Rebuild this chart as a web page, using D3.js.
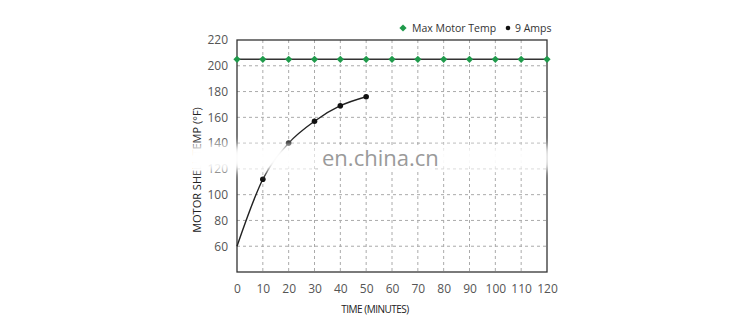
<!DOCTYPE html>
<html><head><meta charset="utf-8">
<script src="https://cdn.jsdelivr.net/npm/d3@7"></script>
<style>body{margin:0;background:#fff}svg{display:block}text{font-family:"Open Sans",sans-serif}</style>
</head><body>
<svg id="c" width="750" height="332"></svg>
<script>
const xTicks = [0,10,20,30,40,50,60,70,80,90,100,110,120];
const yTicks = [60,80,100,120,140,160,180,200,220];
const maxTempX = [0,10,20,30,40,50,60,70,80,90,100,110,120];
const maxTempY = [205,205,205,205,205,205,205,205,205,205,205,205,205];
const ampsX = [0,10,20,30,40,50];
const ampsY = [60,112,140,157,169,176];
const seriesNames = ["Max Motor Temp","9 Amps"];

const svg = d3.select("#c");
const m = {l:237, r:547, t:40, b:272};
const x = d3.scaleLinear().domain([0,120]).range([m.l,m.r]);
const y = d3.scaleLinear().domain([40,220]).range([m.b,m.t]);

const defs = svg.append("defs");
defs.append("filter").attr("id","blur").attr("x","-50%").attr("y","-50%").attr("width","200%").attr("height","200%")
  .append("feGaussianBlur").attr("stdDeviation",4);

// grid
const g = svg.append("g");
g.selectAll(".vg").data(xTicks.slice(1,-1)).join("line")
  .attr("x1",d=>x(d)).attr("x2",d=>x(d)).attr("y1",m.t).attr("y2",m.b)
  .attr("stroke","#aaa").attr("stroke-dasharray","3,3").attr("stroke-width",1);
g.selectAll(".hg").data(yTicks.slice(0,-1)).join("line")
  .attr("x1",m.l).attr("x2",m.r).attr("y1",d=>y(d)).attr("y2",d=>y(d))
  .attr("stroke","#aaa").attr("stroke-dasharray","3,3").attr("stroke-width",1);

// frame
svg.append("rect").attr("x",m.l).attr("y",m.t).attr("width",m.r-m.l).attr("height",m.b-m.t)
  .attr("fill","none").attr("stroke","#333").attr("stroke-width",1.3);

// axes labels
const ax = d3.axisBottom(x).tickValues(xTicks).tickSize(0).tickPadding(12);
const xg = svg.append("g").attr("transform",`translate(0,${m.b})`).call(ax);
xg.select(".domain").remove();
xg.selectAll("text").attr("font-size",12).attr("fill","#555").attr("font-family","Open Sans, sans-serif");
const ay = d3.axisLeft(y).tickValues(yTicks.slice(0)).tickSize(0).tickPadding(9);
const yg = svg.append("g").attr("transform",`translate(${m.l},0)`).call(ay);
yg.select(".domain").remove();
yg.selectAll("text").attr("font-size",12).attr("fill","#555").attr("font-family","Open Sans, sans-serif");

svg.append("text").attr("x",375).attr("y",313).attr("text-anchor","middle")
  .attr("font-size",10).attr("fill","#222").attr("letter-spacing","-0.5").text("TIME (MINUTES)");
svg.append("text").attr("transform","translate(201,170) rotate(-90)").attr("text-anchor","middle")
  .attr("font-size",11).attr("fill","#222").text("MOTOR SHELL TEMP (°F)");

// max temp series
const maxData = maxTempX.map((d,i)=>({x:d,y:maxTempY[i]}));
svg.append("path").datum(maxData).attr("fill","none").attr("stroke","#333").attr("stroke-width",1.5)
  .attr("d",d3.line().x(d=>x(d.x)).y(d=>y(d.y)));
const diamond = d3.symbol().type(d3.symbolSquare).size(26);
svg.selectAll(".dm").data(maxData).join("path").attr("d",diamond)
  .attr("transform",d=>`translate(${x(d.x)},${y(d.y)}) rotate(45)`).attr("fill","#1f9a4b");

// amps series
const ampData = ampsX.map((d,i)=>({x:d,y:ampsY[i]}));
svg.append("path").datum(ampData).attr("fill","none").attr("stroke","#222").attr("stroke-width",1.4)
  .attr("d",d3.line().curve(d3.curveMonotoneX).x(d=>x(d.x)).y(d=>y(d.y)));
svg.selectAll(".am").data(ampData.slice(1)).join("circle")
  .attr("cx",d=>x(d.x)).attr("cy",d=>y(d.y)).attr("r",2.8).attr("fill","#111");

// legend
svg.append("path").attr("d",diamond).attr("transform","translate(403,28) rotate(45)").attr("fill","#1f9a4b");
svg.append("text").attr("x",412).attr("y",32).attr("font-size",10.5).attr("fill","#333").text(seriesNames[0]);
svg.append("circle").attr("cx",508).attr("cy",28).attr("r",2.3).attr("fill","#111");
svg.append("text").attr("x",515).attr("y",32).attr("font-size",10.5).attr("fill","#333").text(seriesNames[1]);

// watermark band
const wm = svg.append("g").attr("filter","url(#blur)");
wm.append("rect").attr("x",188).attr("y",145).attr("width",128).attr("height",26).attr("fill","#fff").attr("opacity",0.98);
wm.append("rect").attr("x",432).attr("y",146).attr("width",120).attr("height",24).attr("fill","#fff").attr("opacity",0.95);
svg.append("rect").attr("x",193).attr("y",149).attr("width",14).attr("height",20).attr("fill","#fff").attr("opacity",0.9);
svg.append("rect").attr("x",318).attr("y",146).attr("width",114).attr("height",24).attr("fill","#fff").attr("opacity",0.92);
svg.append("text").attr("x",322).attr("y",166).attr("font-size",22).attr("fill","#9a9a9a")
  .attr("font-family","Liberation Sans, Arial, sans-serif").text("en.china.cn");
</script>
</body></html>
